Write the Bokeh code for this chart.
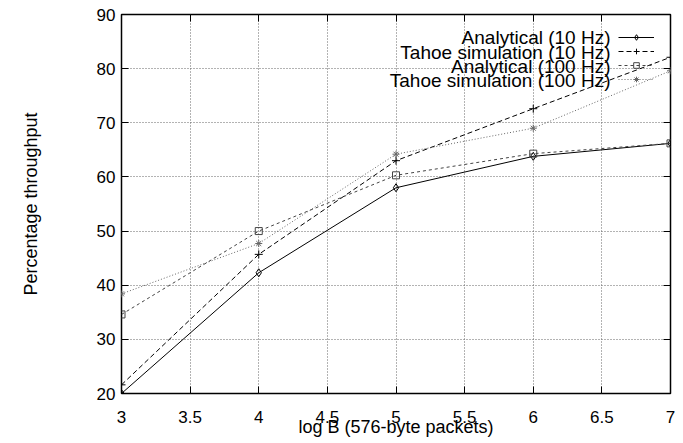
from bokeh.plotting import figure
from bokeh.models import (Range1d, LinearAxis, FixedTicker, Legend, LegendItem, Label)
from bokeh.embed import file_html
from bokeh.resources import INLINE

# ---- data ----
log_b = [3, 4, 5, 6, 7]
analytical_10 = [20.0, 42.3, 58.0, 63.8, 66.2]
tahoe_10 = [21.6, 45.7, 63.0, 72.6, 82.1]
analytical_100 = [34.6, 50.0, 60.3, 64.3, 66.2]
tahoe_100 = [38.4, 47.7, 64.2, 69.0, 79.6]

series_names = ["Analytical (10 Hz)", "Tahoe simulation (10 Hz)",
                "Analytical (100 Hz)", "Tahoe simulation (100 Hz)"]
x_ticks = [3, 3.5, 4, 4.5, 5, 5.5, 6, 6.5, 7]
y_ticks = [20, 30, 40, 50, 60, 70, 80, 90]

FONT = "Liberation Sans"

p = figure(width=683, height=443, output_backend="svg", toolbar_location=None,
           x_range=Range1d(3, 7), y_range=Range1d(20, 90),
           min_border_left=121, min_border_right=13, min_border_top=14,
           min_border_bottom=50)
p.background_fill_color = "white"
p.border_fill_color = "white"
p.outline_line_color = "black"
p.outline_line_width = 1.5

# axes
for ax, ticks in ((p.xaxis[0], x_ticks), (p.yaxis[0], y_ticks)):
    ax.ticker = FixedTicker(ticks=ticks)
    ax.major_tick_in = 7
    ax.major_tick_out = 0
    ax.minor_tick_line_color = None
    ax.axis_line_color = None
    ax.major_tick_line_color = "black"
    ax.major_label_text_font = FONT
    ax.major_label_text_font_size = "17px"
    ax.major_label_text_color = "black"
    ax.axis_label_text_font = FONT
    ax.axis_label_text_font_style = "normal"
    ax.axis_label_text_color = "black"

p.xaxis[0].axis_label = "log B (576-byte packets)"
p.xaxis[0].axis_label_text_font_size = "18px"
p.xaxis[0].major_label_standoff = 17
p.xaxis[0].axis_label_standoff = -9
p.yaxis[0].axis_label = "Percentage throughput"
p.yaxis[0].axis_label_text_font_size = "18px"
p.yaxis[0].major_label_standoff = 6
p.yaxis[0].axis_label_standoff = 53

# mirrored ticks on top and right (no labels)
for place, ticks in (("above", x_ticks), ("right", y_ticks)):
    ax = LinearAxis(ticker=FixedTicker(ticks=ticks))
    ax.major_tick_in = 7
    ax.major_tick_out = 0
    ax.minor_tick_line_color = None
    ax.axis_line_color = None
    ax.major_label_overrides = {t: "" for t in ticks}
    ax.major_label_standoff = 0
    p.add_layout(ax, place)

# grid
p.xgrid.ticker = FixedTicker(ticks=x_ticks)
p.ygrid.ticker = FixedTicker(ticks=y_ticks)
for g in (p.xgrid[0], p.ygrid[0]):
    g.grid_line_color = "#666666"
    g.grid_line_dash = "1 2"
    g.grid_line_width = 1

# series
styles = [
    dict(data=analytical_10, color="black", dash="solid", marker="diamond", size=8),
    dict(data=tahoe_10, color="black", dash="5 3", marker="cross", size=8),
    dict(data=analytical_100, color="#444444", dash="3 3", marker="square", size=7),
    dict(data=tahoe_100, color="#666666", dash="1 2", marker="asterisk", size=7),
]

items = []
for st in styles:
    lr = p.line(log_b, st["data"], line_color=st["color"], line_dash=st["dash"],
                line_width=1)
    mr = p.scatter(log_b, st["data"], marker=st["marker"], size=st["size"],
                   line_color=st["color"], fill_color=None, line_width=1)
    items.append(LegendItem(label=" ", renderers=[lr, mr]))

# glyph-only legend (samples to the right of the text, gnuplot style)
legend = Legend(items=items, location=(497, 307), orientation="vertical",
                glyph_width=36, glyph_height=14, label_height=14, label_width=0,
                label_standoff=0, spacing=0, padding=0, margin=0,
                label_text_font_size="1px",
                background_fill_alpha=0, border_line_color=None)
p.add_layout(legend, "center")

label_y = [356, 341, 327, 313]
for name, yy in zip(series_names, label_y):
    p.add_layout(Label(x=489, y=yy, x_units="screen", y_units="screen", text=name,
                       text_align="right", text_baseline="middle",
                       text_font=FONT, text_font_size="19px", text_color="black"))

open("out.html", "w").write(file_html(p, INLINE))
